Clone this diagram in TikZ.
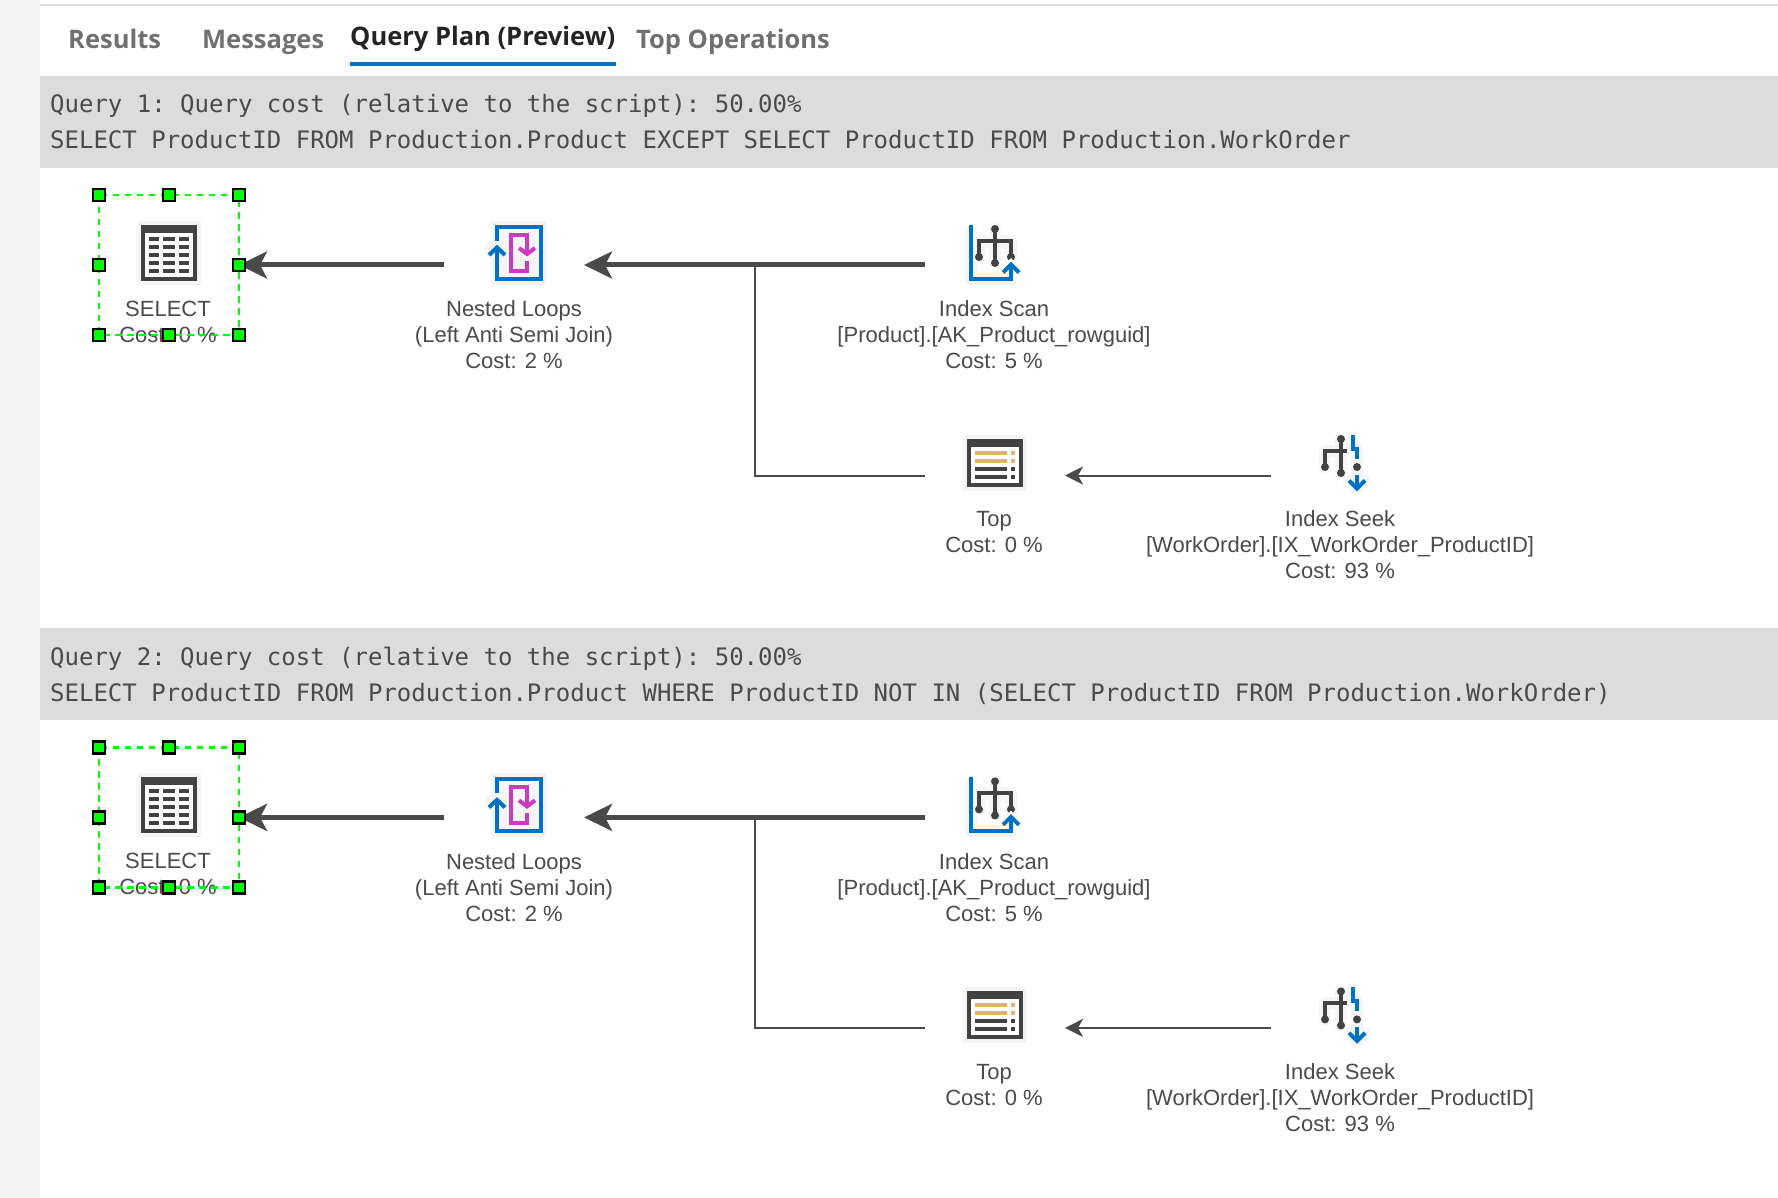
\documentclass[tikz,border=0pt]{standalone}
\usepackage{fontspec}
\setmainfont{Liberation Sans}
\setmonofont{DejaVu Sans Mono}
\newfontfamily\tabfont{Open Sans}
\usepackage{tikz}
\usetikzlibrary{arrows.meta}
\definecolor{stripgray}{HTML}{F3F3F3}
\definecolor{rulegray}{HTML}{E0E0E0}
\definecolor{bandgray}{HTML}{DCDCDC}
\definecolor{halogray}{HTML}{F5F5F5}
\definecolor{darkgray}{HTML}{424242}
\definecolor{linegray}{HTML}{4A4A4A}
\definecolor{tabgray}{HTML}{707070}
\definecolor{tabdark}{HTML}{242424}
\definecolor{iconblue}{HTML}{0072C6}
\definecolor{iconpink}{HTML}{C93BC0}
\definecolor{iconorange}{HTML}{E0B36E}
\definecolor{handlegreen}{HTML}{00FF00}
\tikzset{
    slotbox/.style={inner sep=0, outer sep=0, minimum width=140pt, minimum height=140pt},
    planlabel/.style={anchor=north, align=center, inner sep=0, text=linegray,
        font=\fontsize{22}{26}\selectfont},
    bandtext/.style={anchor=base west, inner sep=0, text=linegray,
        font=\ttfamily\fontsize{24}{30}\selectfont},
    tabtext/.style={anchor=base west, inner sep=0, text=#1,
        font=\tabfont\bfseries\fontsize{25.5}{30}\selectfont},
    thickflow/.style={draw=linegray, line width=5pt, -{Stealth[length=28pt, width=27pt, inset=7pt]}},
    thinflow/.style={draw=linegray, line width=2pt, -{Stealth[length=18pt, width=18pt, inset=5pt]}},
    branchline/.style={draw=linegray, line width=2pt},
    seldash/.style={draw=handlegreen, line width=2.8pt, dash pattern=on 6.5pt off 5.5pt},
    handlebox/.style={fill=handlegreen, draw=black, line width=2.8pt},
    iconline/.style={line width=4pt, miter limit=10},
    halo/.style={draw=halogray, line width=12pt, line cap=round, line join=round}
}

% table icon of the select step
\newcommand{\gridicon}[2]{
    \begin{scope}[shift={(#1,#2)}]
        \fill[halogray] (-32,-32) rectangle (32,32);
        \fill[darkgray] (-28,-28) rectangle (28,28);
        \fill[white] (-24,-20) rectangle (24,24);
        \foreach \rowy in {-16,-8,0,8,16} {
            \fill[darkgray] (-20,\rowy) rectangle (-10,\rowy+4);
            \fill[darkgray] (-6,\rowy) rectangle (6,\rowy+4);
            \fill[darkgray] (10,\rowy) rectangle (20,\rowy+4);
        }
    \end{scope}
}

% nested loops icon
\newcommand{\loopicon}[2]{
    \begin{scope}[shift={(#1,#2)}]
        \fill[halogray] (-28,-32) rectangle (28,32);
        \fill[halogray] (-36,-4) -- (-26,-15) -- (-26,7) -- cycle;
        \draw[iconblue, iconline] (-22,-12) -- (-22,-26) -- (22,-26) -- (22,26) -- (-22,26) -- (-22,-6);
        \draw[iconblue, iconline] (-30,2) -- (-22,-5.5) -- (-14,2);
        \draw[iconpink, iconline] (10,-18) -- (-8,-18) -- (-8,18) -- (8,18) -- (8,8);
        \draw[iconpink, iconline] (8,-18) -- (8,0);
        \draw[iconpink, iconline] (0,-5) -- (8,1) -- (16,-5);
    \end{scope}
}

% index scan icon
\newcommand{\scanicon}[2]{
    \begin{scope}[shift={(#1,#2)}]
        \draw[halo] (-24,-22) -- (-24,26) -- (16,26) -- (16,12);
        \draw[halo] (0,-24) -- (0,10) (-16,-12) -- (16,-12) (-16,-12) -- (-16,4) (16,-12) -- (16,4);
        \draw[darkgray, line width=4pt] (0,-24) -- (0,10) (-16,4) -- (-16,-12) -- (16,-12) -- (16,4);
        \fill[darkgray] (0,-24) circle (4) (-16,4) circle (4) (0,10) circle (4) (16,4) circle (4);
        \draw[white, line width=9pt, line cap=round] (8,19.5) -- (16,11.5) -- (24,19.5);
        \draw[halogray, line width=2pt] (2,26) -- (10,26);
        \draw[iconblue, iconline] (-24,-28) -- (-24,26) -- (16,26) -- (16,12);
        \draw[iconblue, iconline] (8,19.5) -- (16,11.5) -- (24,19.5);
    \end{scope}
}

% top icon
\newcommand{\topicon}[2]{
    \begin{scope}[shift={(#1,#2)}]
        \fill[halogray] (-32,-28) rectangle (32,28);
        \fill[darkgray] (-28,-24) rectangle (28,24);
        \fill[white] (-24,-16) rectangle (24,20);
        \foreach \rowy/\rowcolor in {-12/iconorange,-4/iconorange,4/darkgray,12/darkgray} {
            \fill[\rowcolor] (-20,\rowy) rectangle (12,\rowy+4);
            \fill[\rowcolor] (16,\rowy) rectangle (20,\rowy+4);
        }
    \end{scope}
}

% index seek icon
\newcommand{\seekicon}[2]{
    \begin{scope}[shift={(#1,#2)}]
        \draw[halo] (0,-24) -- (0,10) (-16,4) -- (-16,-12) -- (0,-12);
        \draw[halo] (12,-26) -- (12,-14) -- (16,-14) -- (16,4) -- (16,24);
        \draw[halo] (8,18) -- (16,26) -- (24,18);
        \draw[darkgray, line width=4pt] (0,-24) -- (0,10) (-16,4) -- (-16,-12) -- (6,-12);
        \fill[darkgray] (0,-24) circle (4) (-16,4) circle (4) (0,10) circle (4) (16,4) circle (4);
        \draw[iconblue, iconline] (12,-28) -- (12,-14) -- (16,-14) -- (16,-4);
        \draw[iconblue, iconline] (16,12) -- (16,24);
        \draw[iconblue, iconline] (8,17.5) -- (16,25.5) -- (24,17.5);
    \end{scope}
}

% one query band with its plan, #1 = suffix of the names, #2 = vertical offset
\newcommand{\queryplan}[4]{
    \begin{scope}[shift={(0,#2)}]
        \fill[bandgray] (40,76) rectangle (1778,168);
        \node[bandtext] (costline#1) at (50,112.7) {#3};
        \node[bandtext] (sqlline#1) at (50,148.7) {#4};

        \node[slotbox] (select#1) at (169,265) {};
        \node[slotbox] (nested#1) at (514,265) {};
        \node[slotbox] (scan#1) at (995,265) {};
        \node[slotbox] (top#1) at (995,475.5) {};
        \node[slotbox] (seek#1) at (1341,475.5) {};
        \coordinate (branch#1) at (755,265);

        \gridicon{169}{253}
        \loopicon{519}{253}
        \scanicon{995}{253}
        \topicon{995}{463}
        \seekicon{1341}{463}

        \draw[thickflow] (nested#1.west) -- (select#1.east);
        \draw[thickflow] (scan#1.west) -- (nested#1.east);
        \draw[branchline] (top#1.west) -| (branch#1);
        \draw[thinflow] (seek#1.west) -- (top#1.east);

        \node[planlabel] (selectlabel#1) at (168,300.5) {SELECT\\Cost: 0 \%};
        \node[planlabel] (nestedlabel#1) at (514,300.5) {Nested Loops\\(Left Anti Semi Join)\\Cost: 2 \%};
        \node[planlabel] (scanlabel#1) at (994,300.5) {Index Scan\\{}[Product].[AK\_Product\_rowguid]\\Cost: 5 \%};
        \node[planlabel] (toplabel#1) at (994,511.5) {Top\\Cost: 0 \%};
        \node[planlabel] (seeklabel#1) at (1340,510.5) {Index Seek\\{}[WorkOrder].[IX\_WorkOrder\_ProductID]\\Cost: 93 \%};

        % selection frame of the select step
        \draw[seldash] (select#1.north west) rectangle (select#1.south east);
        \foreach \anc in {north west, north, north east, east, south east, south, south west, west} {
            \filldraw[handlebox] (select#1.\anc) ++(-6,-6) rectangle ++(12,12);
        }
    \end{scope}
}

\begin{document}
\begin{tikzpicture}[x=1pt, y=-1pt]
    \useasboundingbox (0,0) rectangle (1778,1198);
    \fill[white] (0,0) rectangle (1778,1198);
    \fill[stripgray] (0,0) rectangle (40,1198);
    \fill[rulegray] (40,4) rectangle (1778,6);

    \node[tabtext=tabgray] (tabresults) at (68,48.5) {Results};
    \node[tabtext=tabgray] (tabmessages) at (202,48.5) {Messages};
    \node[tabtext=tabdark] (tabplan) at (350,46) {Query Plan (Preview)};
    \node[tabtext=tabgray] (taboperations) at (636,48.5) {Top Operations};
    \fill[iconblue] (350,62) rectangle (616,66);

    \queryplan{1}{0}{Query 1: Query cost (relative to the script): 50.00\%}{SELECT ProductID FROM Production.Product EXCEPT SELECT ProductID FROM Production.WorkOrder}
    \queryplan{2}{552.4}{Query 2: Query cost (relative to the script): 50.00\%}{SELECT ProductID FROM Production.Product WHERE ProductID NOT IN (SELECT ProductID FROM Production.WorkOrder)}
\end{tikzpicture}
\end{document}
